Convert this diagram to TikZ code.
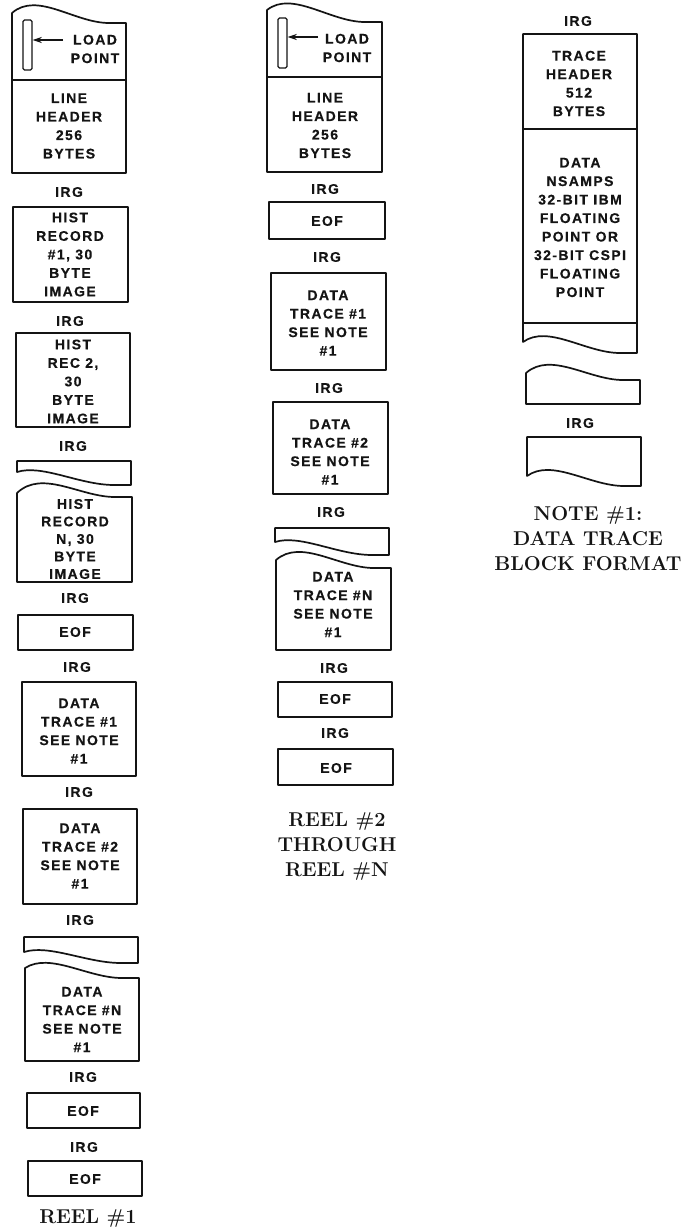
\documentclass[tikz,border=0pt]{standalone}
\usepackage{fontspec}
\newfontfamily\labfont{Liberation Sans}[LetterSpace=10, BoldFeatures={FakeBold=0.4}]
\usetikzlibrary{arrows.meta}
\tikzset{
  tape/.style={draw=black!92, line width=1.7pt, line join=round},
  lab/.style={font=\labfont\bfseries\fontsize{14}{18.5}\selectfont, align=center, inner sep=0pt, text=black!92},
  captxt/.style={font=\bfseries\fontsize{20}{25}\selectfont, align=center, inner sep=0pt, text=black!92},
  lpbox/.style={draw=black!92, line width=1.4pt, rounded corners=1.5pt, minimum width=9pt, minimum height=50pt, inner sep=0pt},
  arr/.style={draw=black!92, line width=1.6pt, -{Stealth[length=9pt,width=6pt]}},
  wv/.style n args={4}{insert path={.. controls ({#1+0.22*(#2-#1)},#4) and ({#1+0.55*(#2-#1)},#3) .. ({#1+0.85*(#2-#1)},#3) -- (#2,#3)}}
}
\begin{document}
\begin{tikzpicture}[x=1pt,y=-1pt]
\useasboundingbox (0,0) rectangle (689,1230);
\fill[white] (0,0) rectangle (689,1230);

% ---------------- column 1 : REEL #1
\draw[tape] (12,173) -- (12,13) [wv={12}{126}{23}{-9}] -- (126,173) -- cycle;
\draw[tape] (12,80) -- (126,80);
\node[lpbox] (lp1) at (27.5,45) {};
\node[lab] (lt1) at (95,49) {LOAD\\POINT};
\coordinate (la1) at (63,40);
\draw[arr] (la1) -- (la1 -| lp1.east);
\node[lab] (c1h) at (69,126) {LINE\\HEADER\\256\\BYTES};
\node[lab] (c1g1) at (69,192) {IRG};
\draw[tape] (13,207) rectangle (128,302);
\node[lab] (c1r1) at (70,254.5) {HIST\\RECORD\\\#1, 30\\BYTE\\IMAGE};
\node[lab] (c1g2) at (70,321) {IRG};
\draw[tape] (16,333) rectangle (130,427);
\node[lab] (c1r2) at (73,381.5) {HIST\\REC 2,\\30\\BYTE\\IMAGE};
\node[lab] (c1g3) at (73,446) {IRG};
\draw[tape] (17,472) [wv={17}{131}{485}{464}] -- (131,461) -- (17,461) -- cycle;
\draw[tape] (17,582) -- (17,493) [wv={17}{132}{497}{469}] -- (132,582) -- cycle;
\node[lab, font=\labfont\bfseries\fontsize{14}{17.5}\selectfont] (c1rn) at (75,539) {HIST\\RECORD\\N, 30\\BYTE\\IMAGE};
\node[lab] (c1g4) at (75,598) {IRG};
\draw[tape] (18,615) rectangle (133,650);
\node[lab] (c1e1) at (75,632) {EOF};
\node[lab] (c1g5) at (77,667) {IRG};
\draw[tape] (22,682) rectangle (136,776);
\node[lab] (c1d1) at (79,731) {DATA\\TRACE \#1\\SEE NOTE\\\#1};
\node[lab] (c1g6) at (79,792) {IRG};
\draw[tape] (23,809) rectangle (137,904);
\node[lab] (c1d2) at (80,856) {DATA\\TRACE \#2\\SEE NOTE\\\#1};
\node[lab] (c1g7) at (80,920) {IRG};
\draw[tape] (24,952) [wv={24}{138}{963}{944}] -- (138,937) -- (24,937) -- cycle;
\draw[tape] (25,1061) -- (25,968) [wv={25}{139}{978}{952}] -- (139,1061) -- cycle;
\node[lab] (c1dn) at (82,1019.5) {DATA\\TRACE \#N\\SEE NOTE\\\#1};
\node[lab] (c1g8) at (83,1077) {IRG};
\draw[tape] (27,1093) rectangle (140,1128);
\node[lab] (c1e2) at (83,1111) {EOF};
\node[lab] (c1g9) at (84,1147) {IRG};
\draw[tape] (28,1161) rectangle (142,1196);
\node[lab] (c1e3) at (85,1179) {EOF};
\node[captxt] (c1c) at (88,1218) {REEL \#1};

% ---------------- column 2 : REEL #2 THROUGH REEL #N
\draw[tape] (267,172) -- (267,10) [wv={267}{382}{22}{-10}] -- (382,172) -- cycle;
\draw[tape] (267,77) -- (382,77);
\node[lpbox] (lp2) at (282.5,43) {};
\node[lab] (lt2) at (347,48) {LOAD\\POINT};
\coordinate (la2) at (318,37);
\draw[arr] (la2) -- (la2 -| lp2.east);
\node[lab] (c2h) at (325,125.5) {LINE\\HEADER\\256\\BYTES};
\node[lab] (c2g1) at (325,189) {IRG};
\draw[tape] (269,202) rectangle (385,239);
\node[lab] (c2e1) at (327,221) {EOF};
\node[lab] (c2g2) at (327,257) {IRG};
\draw[tape] (271,273) rectangle (386,370);
\node[lab] (c2d1) at (328,323) {DATA\\TRACE \#1\\SEE NOTE\\\#1};
\node[lab] (c2g3) at (329,388) {IRG};
\draw[tape] (273,402) rectangle (388,494);
\node[lab] (c2d2) at (330,452) {DATA\\TRACE \#2\\SEE NOTE\\\#1};
\node[lab] (c2g4) at (331,512) {IRG};
\draw[tape] (275,542) [wv={275}{389}{555}{534}] -- (389,528) -- (275,528) -- cycle;
\draw[tape] (276,650) -- (276,560) [wv={276}{391}{568}{538}] -- (391,650) -- cycle;
\node[lab] (c2dn) at (333,604.5) {DATA\\TRACE \#N\\SEE NOTE\\\#1};
\node[lab] (c2g5) at (334,668) {IRG};
\draw[tape] (278,682) rectangle (392,717);
\node[lab] (c2e2) at (335,699) {EOF};
\node[lab] (c2g6) at (335,733) {IRG};
\draw[tape] (278,749) rectangle (393,785);
\node[lab] (c2e3) at (336,768) {EOF};
\node[captxt] (c2c) at (337,846) {REEL \#2\\THROUGH\\REEL \#N};

% ---------------- column 3 : NOTE #1
\node[lab] (c3g1) at (578,21) {IRG};
\draw[tape] (523,342) [wv={523}{637}{353}{324}] -- (637,34) -- (523,34) -- cycle;
\draw[tape] (523,129) -- (637,129);
\draw[tape] (523,323) -- (637,323);
\node[lab] (c3h) at (579,83.5) {TRACE\\HEADER\\512\\BYTES};
\node[lab] (c3d) at (580,227.5) {DATA\\NSAMPS\\32-BIT IBM\\FLOATING\\POINT OR\\32-BIT CSPI\\FLOATING\\POINT};
\draw[tape] (526,404) -- (526,373) [wv={526}{640}{380}{351}] -- (640,404) -- cycle;
\node[lab] (c3g2) at (580,423) {IRG};
\draw[tape] (527,476) [wv={527}{641}{486}{458}] -- (641,437) -- (527,437) -- cycle;
\node[captxt] (c3c) at (588,539) {NOTE \#1:\\DATA TRACE\\BLOCK FORMAT};
\end{tikzpicture}
\end{document}
